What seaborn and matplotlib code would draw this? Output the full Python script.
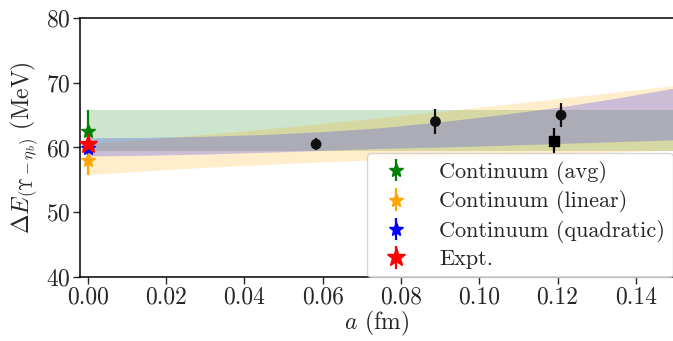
import matplotlib
matplotlib.use("Agg")
import matplotlib.pyplot as plt
import seaborn as sns
import pandas as pd

# ---- data ----
a_grid = [0.0, 0.015, 0.03, 0.045, 0.06, 0.075, 0.09, 0.105, 0.12, 0.135, 0.15]

avg_lo = [59.4] * 11
avg_hi = [65.8] * 11

lin_lo = [55.80, 56.40, 56.93, 57.37, 57.78, 58.14, 58.47, 58.77, 59.05, 59.32, 59.59]
lin_hi = [60.60, 61.28, 62.03, 62.85, 63.72, 64.64, 65.59, 66.55, 67.55, 68.56, 69.57]

quad_lo = [58.70, 58.80, 58.99, 59.25, 59.55, 59.86, 60.07, 60.32, 60.61, 60.91, 61.19]
quad_hi = [61.50, 61.56, 61.73, 62.01, 62.45, 63.06, 63.97, 65.02, 66.21, 67.61, 69.19]

lat_a = [0.0583, 0.0888, 0.1209]
lat_E = [60.5, 64.0, 65.0]
lat_err = [0.9, 1.95, 1.9]

sq_a = [0.119]
sq_E = [61.0]
sq_err = [2.0]

star_labels = ["Continuum (avg)", "Continuum (linear)", "Continuum (quadratic)", "Expt."]
star_colors = ["green", "orange", "blue", "red"]
star_E = [62.6, 58.1, 59.9, 60.6]
star_err = [3.2, 2.35, 1.4, 0.9]
star_ms = [10, 10, 10, 14]

x_ticks = [0.00, 0.02, 0.04, 0.06, 0.08, 0.10, 0.12, 0.14]
y_ticks = [40, 50, 60, 70, 80]

# ---- style ----
sns.set_style("ticks")
plt.rcParams["font.family"] = ["serif"]
plt.rcParams["font.serif"] = ["cmr10", "DejaVu Serif"]
plt.rcParams["mathtext.fontset"] = "cm"
plt.rcParams["axes.formatter.use_mathtext"] = True
plt.rcParams["axes.unicode_minus"] = False

fig = plt.figure(figsize=(6.73, 3.41), dpi=100)
ax = fig.add_axes([0.119, 0.1877, 0.881, 0.7596])

ax.fill_between(a_grid, avg_lo, avg_hi, color="green", alpha=0.2, lw=0)
ax.fill_between(a_grid, lin_lo, lin_hi, color="orange", alpha=0.2, lw=0)
ax.fill_between(a_grid, quad_lo, quad_hi, color="blue", alpha=0.2, lw=0)

df = pd.DataFrame({"a": lat_a, "E": lat_E})
ax.errorbar(lat_a, lat_E, yerr=lat_err, fmt="none", ecolor="#111111", elinewidth=1.6, zorder=3)
sns.scatterplot(data=df, x="a", y="E", ax=ax, color="#111111", s=60, marker="o",
                edgecolor="none", zorder=4, legend=False)
ax.errorbar(sq_a, sq_E, yerr=sq_err, fmt="s", color="black", ms=7, elinewidth=1.6, zorder=4)

for lab, c, E, err, ms in zip(star_labels, star_colors, star_E, star_err, star_ms):
    ax.errorbar([0.0], [E], yerr=[err], fmt="*", color=c, ms=ms, elinewidth=1.6,
                label=lab, zorder=5)

ax.set_xlim(-0.002, 0.1495)
ax.set_ylim(40, 80)
ax.set_xticks(x_ticks)
ax.set_xticklabels([f"{t:.2f}" for t in x_ticks])
ax.set_yticks(y_ticks)
ax.tick_params(labelsize=17, direction="out", length=5, width=1, pad=2)
ax.spines["right"].set_visible(False)
for s in ["left", "bottom", "top"]:
    ax.spines[s].set_color("black")
    ax.spines[s].set_linewidth(1.1)

ax.set_xlabel(r"$a$ (fm)", fontsize=17, labelpad=0)
ax.set_ylabel(r"$\Delta E_{(\Upsilon - \eta_b)}$ (MeV)", fontsize=17, labelpad=4)

ax.legend(loc="lower right", bbox_to_anchor=(1.0, 0.0), borderaxespad=0.0,
          fontsize=16, framealpha=0.8, labelspacing=0.3, handletextpad=1.0,
          borderpad=0.35, handlelength=1.9)

fig.savefig("out.png", dpi=100)
